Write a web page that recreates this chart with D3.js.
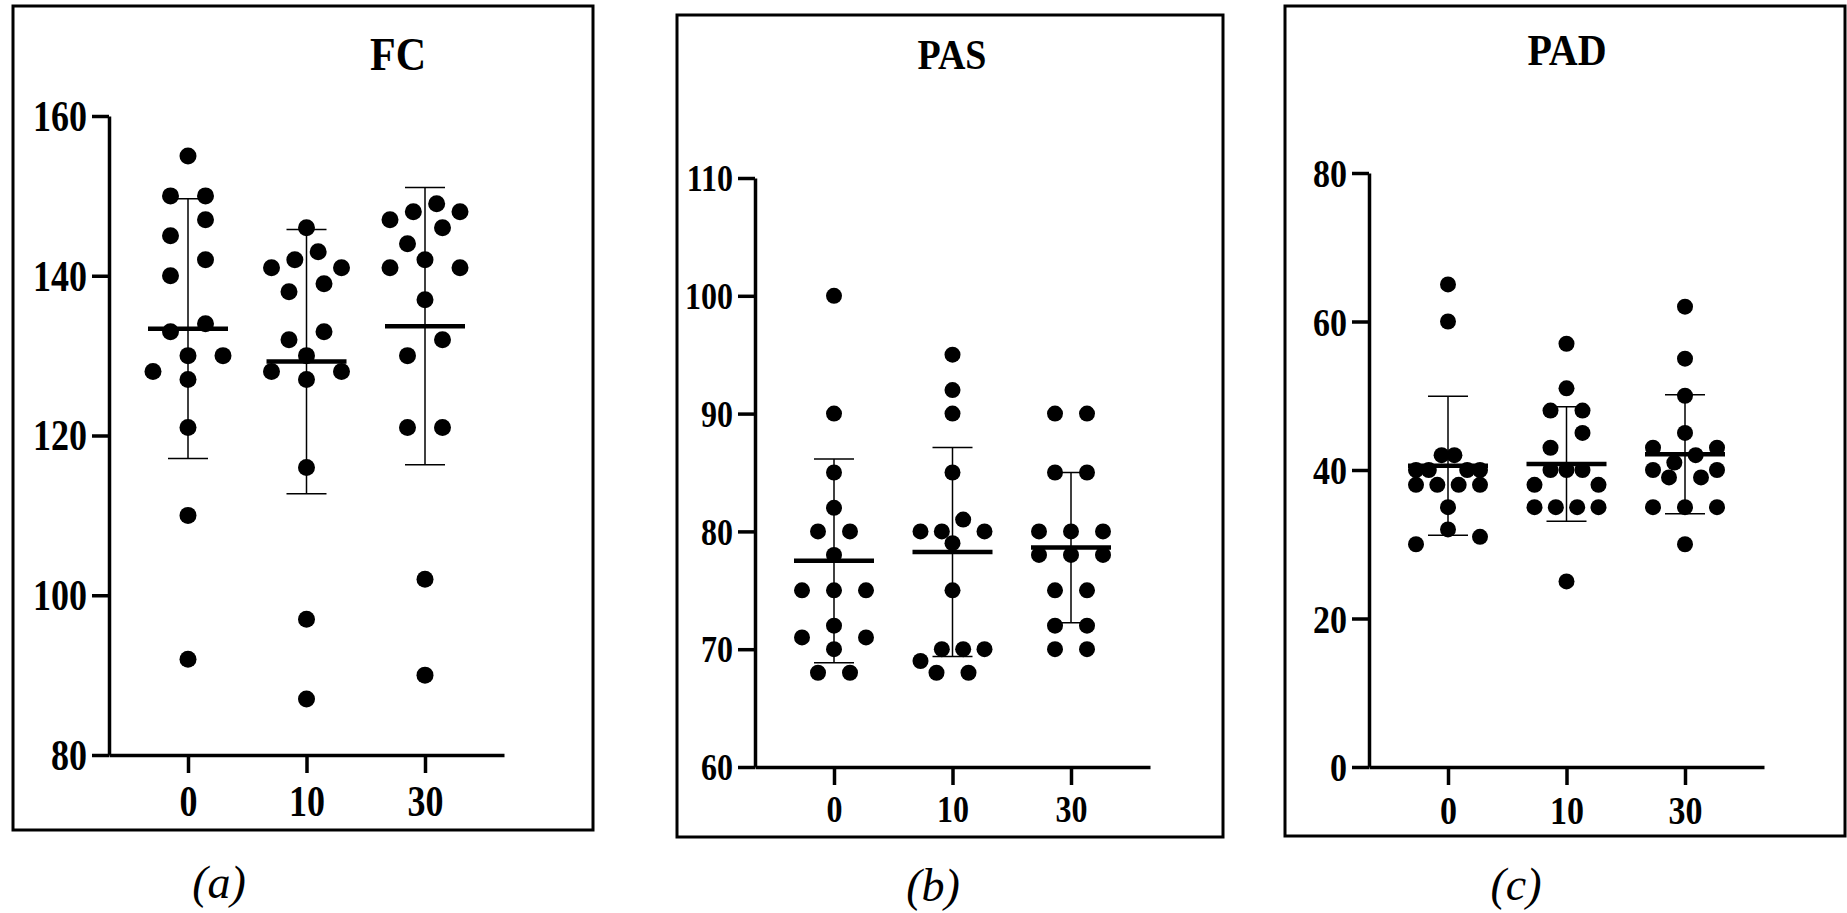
<!DOCTYPE html>
<html>
<head>
<meta charset="utf-8">
<script src="https://cdn.jsdelivr.net/npm/d3@7"></script>
<style>
    body { margin: 0; background: #fff; }
    svg { display: block; }
</style>
</head>
<body>
<div id="chart"></div>
<script>
// categories (minutes) shared by the three panels
const groups = ['0', '10', '30'];

// FC values per group
const fc0 = [155, 150, 150, 147, 145, 142, 140, 134, 133, 130, 130, 128, 127, 121, 110, 92];
const fc10 = [146, 143, 142, 141, 141, 139, 138, 133, 132, 130, 128, 128, 127, 116, 97, 87];
const fc30 = [149, 148, 148, 147, 146, 144, 142, 141, 141, 137, 132, 130, 121, 121, 102, 90];

// PAS values per group
const pas0 = [100, 90, 85, 82, 80, 80, 78, 75, 75, 75, 72, 71, 71, 70, 68, 68];
const pas10 = [95, 92, 90, 85, 81, 80, 80, 80, 79, 75, 70, 70, 70, 69, 68, 68];
const pas30 = [90, 90, 85, 85, 80, 80, 80, 78, 78, 78, 75, 75, 72, 72, 70, 70];

// PAD values per group
const pad0 = [65, 60, 42, 42, 40, 40, 40, 40, 38, 38, 38, 38, 35, 32, 31, 30];
const pad10 = [57, 51, 48, 48, 45, 43, 40, 40, 40, 38, 38, 35, 35, 35, 35, 25];
const pad30 = [62, 55, 50, 45, 43, 43, 42, 41, 40, 40, 39, 39, 35, 35, 35, 30];

// tick labels
const fcTicks = [80, 100, 120, 140, 160];
const pasTicks = [60, 70, 80, 90, 100, 110];
const padTicks = [0, 20, 40, 60, 80];

const titles = ['FC', 'PAS', 'PAD'];
const captions = ['(a)', '(b)', '(c)'];

const width = 1847;
const height = 913;
const serif = '"Liberation Serif", "Times New Roman", serif';
// the figure's labels are a little narrow, so squeeze them horizontally
const squeeze = 0.83;

const svg = d3.select('#chart')
    .append('svg')
    .attr('width', width)
    .attr('height', height);

// spread the dots of one column in rows, like a scatter dot plot
function swarm(values, y, r, step, half) {
    const sorted = values.slice().sort(d3.descending);
    const rows = [];
    sorted.forEach(v => {
        const row = rows[rows.length - 1];
        if (row && y(v) - y(row[0]) < 2 * r + 0.5) row.push(v);
        else rows.push([v]);
    });
    const out = [];
    rows.forEach(row => {
        const n = row.length;
        const gap = n > 1 ? Math.min(2 * step, 2 * half / (n - 1)) : 0;
        const slots = d3.range(n)
            .map(i => (i - (n - 1) / 2) * gap)
            .sort((a, b) => Math.abs(a) - Math.abs(b) || b - a);
        row.forEach((v, i) => out.push({ value: v, dx: slots[i] }));
    });
    return out;
}

function renderPanel(p) {
    const g = svg.append('g');

    // frame
    g.append('rect')
        .attr('x', p.frame[0])
        .attr('y', p.frame[1])
        .attr('width', p.frame[2] - p.frame[0])
        .attr('height', p.frame[3] - p.frame[1])
        .attr('fill', 'none')
        .attr('stroke', '#000')
        .attr('stroke-width', 3);

    // scales
    const y = d3.scaleLinear()
        .domain(d3.extent(p.ticks))
        .range([p.bottom, p.top]);

    const x = d3.scalePoint()
        .domain(groups)
        .range([p.left, p.left + 395])
        .padding(2 / 3);

    // axes
    const yAxis = d3.axisLeft(y)
        .tickValues(p.ticks)
        .tickFormat(d3.format('d'))
        .tickSize(17)
        .tickSizeOuter(0)
        .tickPadding(5);

    const xAxis = d3.axisBottom(x)
        .tickSize(18)
        .tickSizeOuter(0)
        .tickPadding(p.xPad);

    const xAxisGroup = g.append('g')
        .attr('transform', `translate(0, ${ p.bottom })`)
        .call(xAxis);
    const yAxisGroup = g.append('g')
        .attr('transform', `translate(${ p.left }, 0)`)
        .call(yAxis);

    [xAxisGroup, yAxisGroup].forEach(ax => {
        ax.selectAll('path.domain')
            .attr('stroke', '#000')
            .attr('stroke-width', 3.5);
        ax.selectAll('line')
            .attr('stroke', '#000')
            .attr('stroke-width', 3.5);
        ax.selectAll('text')
            .attr('fill', '#000')
            .attr('font-family', serif)
            .attr('font-weight', 'bold')
            .attr('font-size', p.font / squeeze)
            .attr('transform', `scale(${ squeeze }, 1)`);
    });
    yAxisGroup.selectAll('text')
        .attr('x', -22 / squeeze)
        .attr('dy', '0.33em');

    // dots
    p.data.forEach((values, i) => {
        const cx = x(groups[i]);
        const pts = swarm(values, y, p.r, p.step, p.half);

        g.append('g')
            .selectAll('circle')
            .data(pts)
            .enter()
            .append('circle')
            .attr('cx', d => cx + d.dx)
            .attr('cy', d => y(d.value))
            .attr('r', p.r)
            .attr('fill', '#000');

        // mean and SD
        const mean = d3.mean(values);
        const sd = d3.deviation(values);

        g.append('line')
            .attr('x1', cx).attr('x2', cx)
            .attr('y1', y(mean + sd)).attr('y2', y(mean - sd))
            .attr('stroke', '#000')
            .attr('stroke-width', 1.5);

        g.selectAll(null)
            .data([mean + sd, mean - sd])
            .enter()
            .append('line')
            .attr('x1', cx - 20).attr('x2', cx + 20)
            .attr('y1', d => y(d)).attr('y2', d => y(d))
            .attr('stroke', '#000')
            .attr('stroke-width', 1.5);

        g.append('line')
            .attr('x1', cx - 40).attr('x2', cx + 40)
            .attr('y1', y(mean)).attr('y2', y(mean))
            .attr('stroke', '#000')
            .attr('stroke-width', 4.5);
    });

    // title and caption
    g.append('text')
        .attr('x', p.titlePos[0] / 0.9)
        .attr('y', p.titlePos[1])
        .attr('dy', '0.33em')
        .attr('transform', 'scale(0.9, 1)')
        .attr('text-anchor', 'middle')
        .attr('font-family', serif)
        .attr('font-weight', 'bold')
        .attr('font-size', p.titleFont / 0.9)
        .text(p.title);

    g.append('text')
        .attr('x', p.capPos[0])
        .attr('y', p.capPos[1])
        .attr('dy', '0.33em')
        .attr('text-anchor', 'middle')
        .attr('font-family', serif)
        .attr('font-style', 'italic')
        .attr('font-size', 46)
        .text(p.caption);
}

renderPanel({
    data: [fc0, fc10, fc30], ticks: fcTicks, title: titles[0], caption: captions[0],
    frame: [13, 6, 593, 830], left: 109, top: 116, bottom: 755,
    r: 8.5, step: 17.5, half: 35, font: 36, xPad: 12, titleFont: 42,
    titlePos: [398, 55], capPos: [219, 883]
});

renderPanel({
    data: [pas0, pas10, pas30], ticks: pasTicks, title: titles[1], caption: captions[1],
    frame: [677, 15, 1223, 837], left: 755, top: 178, bottom: 767,
    r: 8, step: 16, half: 32, font: 32, xPad: 10, titleFont: 38,
    titlePos: [952, 55], capPos: [933, 886]
});

renderPanel({
    data: [pad0, pad10, pad30], ticks: padTicks, title: titles[2], caption: captions[2],
    frame: [1285, 6, 1845, 836], left: 1369, top: 173, bottom: 767,
    r: 8, step: 16, half: 32, font: 34, xPad: 10, titleFont: 40,
    titlePos: [1567, 50], capPos: [1516, 885]
});
</script>
</body>
</html>
